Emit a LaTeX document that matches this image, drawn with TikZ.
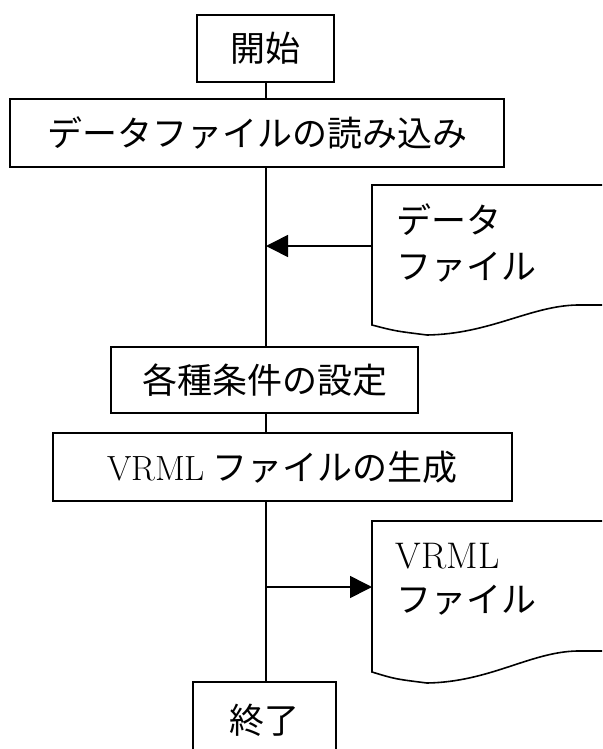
\documentclass[tikz,border=0pt]{standalone}
\usepackage{fontspec}
\newfontfamily\jp{Noto Sans CJK JP}
\usetikzlibrary{arrows.meta}
\begin{document}
\begin{tikzpicture}[x=1pt,y=-1pt,line width=1.6pt,
  box/.style={draw,line width=1.6pt,inner sep=0pt,font=\jp\fontsize{35}{40}\selectfont},
  doctext/.style={anchor=west,inner sep=0pt,font=\jp\fontsize{35}{40}\selectfont},
  arr/.style={-{Triangle[length=22pt,width=22pt]}}]
\useasboundingbox (0,0) rectangle (602,749);
\clip (0,0) rectangle (602,749);
\coordinate (spine) at (266,0);
% boxes
\node[box,minimum width=137pt,minimum height=67pt] (start) at (265.5,48.5) {開始};
\node[box,minimum width=494pt,minimum height=68pt] (read) at (257,133) {データファイルの読み込み};
\node[box,minimum width=307pt,minimum height=66pt] (cond) at (264.5,380) {各種条件の設定};
\node[box,minimum width=459pt,minimum height=68pt] (gen) at (282.5,467) {{\fontspec{Latin Modern Roman}\fontsize{35}{40}\selectfont VRML} ファイルの生成};
\node[box,minimum width=143pt,minimum height=76pt] (end) at (264.5,720) {終了};
% spine connectors
\draw (start.south -| spine) -- (read.north -| spine);
\draw (read.south -| spine) -- (cond.north -| spine);
\draw (cond.south -| spine) -- (gen.north -| spine);
\draw (gen.south -| spine) -- (end.north -| spine);
% document 1
\draw (620,185) -- (372,185) -- (372,325)
  .. controls (395,331) .. (427,335)
  .. controls (490,334) and (530,306) .. (577,305) -- (620,305);
\node[doctext] (d1a) at (396,220) {データ};
\node[doctext] (d1b) at (396,267) {ファイル};
\coordinate (d1in) at (372,246);
\draw[arr] (d1in) -- (d1in -| spine);
% document 2
\draw (620,521) -- (372,521) -- (372,672)
  .. controls (395,679) .. (427,683)
  .. controls (490,682) and (530,652) .. (577,651) -- (620,651);
\node[anchor=base west,inner sep=0pt,font=\fontsize{37}{40}\selectfont] (d2a) at (395,568) {VRML};
\node[doctext] (d2b) at (396,600) {ファイル};
\coordinate (d2in) at (372,587);
\draw[arr] (d2in -| spine) -- (d2in);
\end{tikzpicture}
\end{document}
